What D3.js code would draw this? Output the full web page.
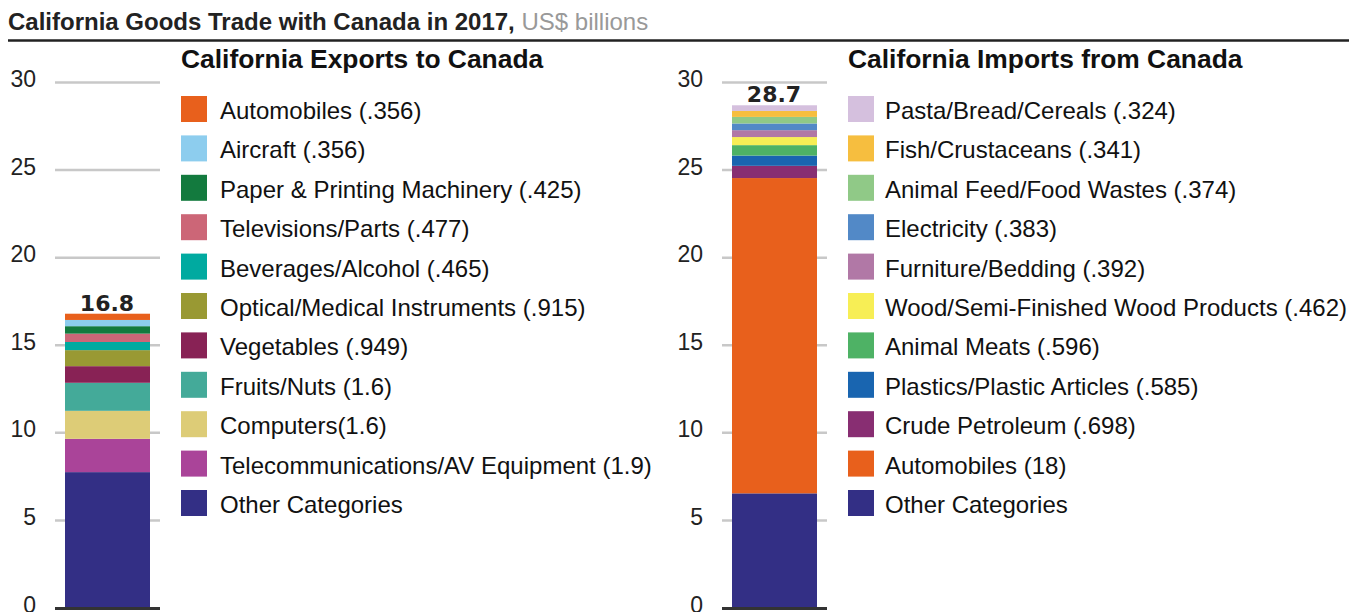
<!DOCTYPE html>
<html><head><meta charset="utf-8">
<script src="https://cdn.jsdelivr.net/npm/d3@7"></script>
<style>body{margin:0;background:#fff}svg{display:block}</style>
</head><body>
<svg id="c" width="1359" height="612"></svg>
<script>
const ticks = [0,5,10,15,20,25,30];

const exportCats = ["Automobiles (.356)","Aircraft (.356)","Paper & Printing Machinery (.425)","Televisions/Parts (.477)","Beverages/Alcohol (.465)","Optical/Medical Instruments (.915)","Vegetables (.949)","Fruits/Nuts (1.6)","Computers(1.6)","Telecommunications/AV Equipment (1.9)","Other Categories"];
const exportVals = [0.356,0.356,0.425,0.477,0.465,0.915,0.949,1.6,1.6,1.9,7.757];
const exportColors = ["#E8601C","#8DCDEE","#137A3E","#CC6677","#00AAA0","#999933","#882255","#44AA99","#DDCC77","#AA4499","#332F85"];
const exportTotal = "16.8";

const importCats = ["Pasta/Bread/Cereals (.324)","Fish/Crustaceans (.341)","Animal Feed/Food Wastes (.374)","Electricity (.383)","Furniture/Bedding (.392)","Wood/Semi-Finished Wood Products (.462)","Animal Meats (.596)","Plastics/Plastic Articles (.585)","Crude Petroleum (.698)","Automobiles (18)","Other Categories"];
const importVals = [0.324,0.341,0.374,0.383,0.392,0.462,0.596,0.585,0.698,18,6.545];
const importColors = ["#D5C0DE","#F6BE3F","#90C987","#5289C7","#B178A6","#F7EE55","#4EB265","#1965B0","#882E72","#E8601C","#332F85"];
const importTotal = "28.7";

const svg = d3.select("#c");
const font = "'Liberation Sans', Arial, sans-serif";

const t = svg.append("text").attr("x",8).attr("y",30).attr("font-family",font).attr("font-size",24);
t.append("tspan").attr("font-weight","bold").attr("fill","#222").text("California Goods Trade with Canada in 2017,");
t.append("tspan").attr("fill","#999").text(" US$ billions");
svg.append("line").attr("x1",8).attr("x2",1349).attr("y1",40.5).attr("y2",40.5).attr("stroke","#222").attr("stroke-width",2.5);

const y = d3.scaleLinear().domain([0,30]).range([608,82.5]);

function panel(ox, title, cats, vals, colors, total){
  const g = svg.append("g").attr("transform",`translate(${ox},0)`);
  g.selectAll("line.grid").data(ticks.filter(d=>d>0)).join("line")
    .attr("x1",55).attr("x2",160).attr("y1",d=>y(d)).attr("y2",d=>y(d))
    .attr("stroke","#c8c8c8").attr("stroke-width",2.5);
  g.selectAll("text.tick").data(ticks).join("text")
    .attr("x",36).attr("y",d=>y(d)+4.5).attr("text-anchor","end")
    .attr("font-family",font).attr("font-size",23).attr("fill","#222").text(d=>d);
  const order = vals.map((v,i)=>i).reverse();
  let cum = 0;
  const segs = order.map(i=>{const s={i,y0:cum,y1:cum+vals[i]}; cum+=vals[i]; return s;});
  g.selectAll("rect.seg").data(segs).join("rect")
    .attr("x",65).attr("width",85)
    .attr("y",d=>y(d.y1)).attr("height",d=>y(d.y0)-y(d.y1))
    .attr("fill",d=>colors[d.i]);
  g.append("line").attr("x1",55).attr("x2",160).attr("y1",y(0)+0.5).attr("y2",y(0)+0.5)
    .attr("stroke","#333").attr("stroke-width",3);
  g.append("text").attr("x",107).attr("y",y(cum)-3).attr("text-anchor","middle")
    .attr("font-family","'DejaVu Sans', sans-serif").attr("font-weight","bold").attr("font-size",22)
    .attr("fill","#222").text(total);
  g.append("text").attr("x",181).attr("y",68).attr("font-family",font).attr("font-weight","bold")
    .attr("font-size",26.4).attr("fill","#111").text(title);
  const lg = g.selectAll("g.leg").data(cats).join("g").attr("transform",(d,i)=>`translate(181,${96+i*39.4})`);
  lg.append("rect").attr("width",26).attr("height",26).attr("fill",(d,i)=>colors[i]);
  lg.append("text").attr("x",ox===0?39:37).attr("y",23)
    .attr("font-family",font).attr("font-size",24).attr("fill","#111").text(d=>d);
}
panel(0,"California Exports to Canada",exportCats,exportVals,exportColors,exportTotal);
panel(667,"California Imports from Canada",importCats,importVals,importColors,importTotal);
</script>
</body></html>
